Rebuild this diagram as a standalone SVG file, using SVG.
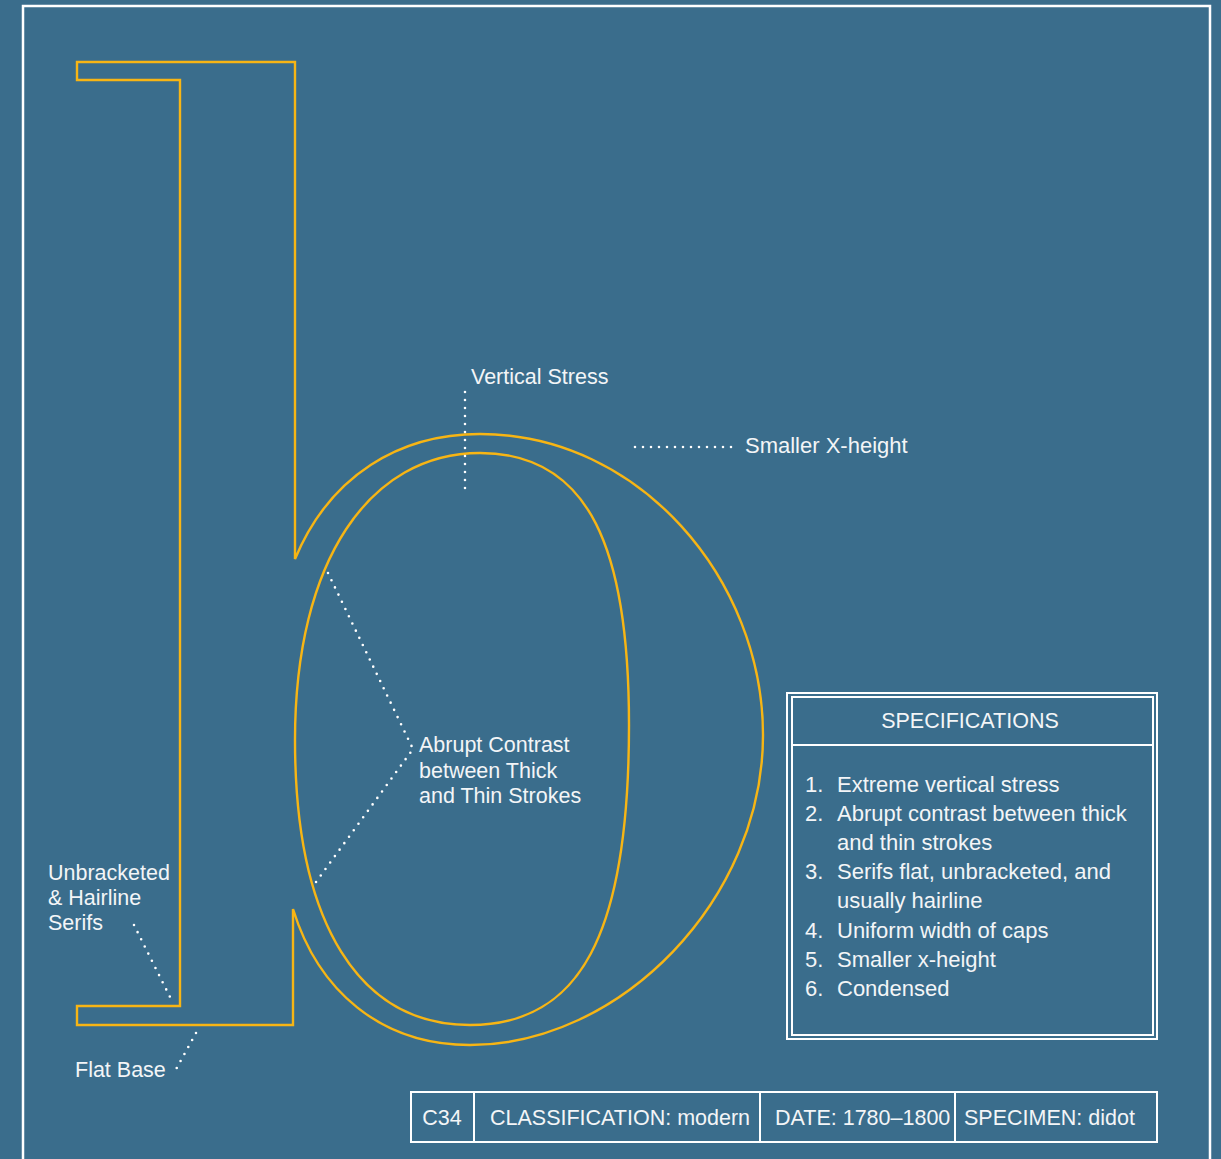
<svg xmlns="http://www.w3.org/2000/svg" width="1221" height="1159" viewBox="0 0 1221 1159">
  <style>
    .glyph { fill: none; stroke: #f7b514; stroke-width: 2.4; stroke-linejoin: miter; }
    .dots { fill: none; stroke: #ffffff; stroke-width: 2.6; stroke-linecap: round; stroke-dasharray: 0 8; }
    .lbl { font-family: "Liberation Sans", Arial, sans-serif; font-size: 21.5px; fill: #f3f5f7; }
    .spec { font-size: 22px; }
    .box { fill: none; stroke: #ffffff; stroke-width: 2; }
  </style>
  <rect x="0" y="0" width="1221" height="1159" fill="#3a6d8c"/>
  <path d="M23,1165 V6 H1210 V1165" fill="none" stroke="#ffffff" stroke-width="2.5"/>

  <g id="letter-b">
    <path class="glyph" d="M77,62 H295 V559 C330,475 400,434 480,434 C640,434 763,580 763,735 C763,900 620,1045 470,1045 C380,1045 318,990 293,909 V1025 H77 V1006 H180 V80 H77 Z"/>
    <path class="glyph" d="M480,453 C590,453 629,550 629,725 C629,935 580,1025 470,1025 C360,1025 295,925 295,740 C295,560 370,453 480,453 Z"/>
  </g>

  <g id="connectors">
    <line class="dots" x1="465" y1="392" x2="465" y2="492"/>
    <line class="dots" x1="635" y1="447" x2="735" y2="447"/>
    <polyline class="dots" points="328,573 413,749 316,882"/>
    <line class="dots" x1="134" y1="925" x2="170" y2="997"/>
    <line class="dots" x1="196" y1="1033" x2="174" y2="1073"/>
  </g>

  <g id="label-vertical-stress"><text class="lbl" x="471" y="384">Vertical Stress</text></g>
  <g id="label-x-height"><text class="lbl spec" x="745" y="453">Smaller X-height</text></g>
  <g id="label-contrast">
    <text class="lbl" x="419" y="752">Abrupt Contrast</text>
    <text class="lbl" x="419" y="778">between Thick</text>
    <text class="lbl" x="419" y="803">and Thin Strokes</text>
  </g>
  <g id="label-serifs">
    <text class="lbl" x="48" y="880">Unbracketed</text>
    <text class="lbl" x="48" y="905">&amp; Hairline</text>
    <text class="lbl" x="48" y="930">Serifs</text>
  </g>
  <g id="label-flat-base"><text class="lbl" x="75" y="1077">Flat Base</text></g>

  <g id="specifications">
    <rect class="box" x="787" y="693" width="370" height="346" stroke-width="1.6"/>
    <rect class="box" x="792" y="697" width="361" height="338" stroke-width="1.6"/>
    <line class="box" x1="792" y1="745" x2="1153" y2="745" stroke-width="2.4"/>
    <text class="lbl" x="970" y="728" text-anchor="middle">SPECIFICATIONS</text>
    <text class="lbl spec" x="805" y="792">1.</text><text class="lbl spec" x="837" y="792">Extreme vertical stress</text>
    <text class="lbl spec" x="805" y="821">2.</text><text class="lbl spec" x="837" y="821">Abrupt contrast between thick</text>
    <text class="lbl spec" x="837" y="850">and thin strokes</text>
    <text class="lbl spec" x="805" y="879">3.</text><text class="lbl spec" x="837" y="879">Serifs flat, unbracketed, and</text>
    <text class="lbl spec" x="837" y="908">usually hairline</text>
    <text class="lbl spec" x="805" y="938">4.</text><text class="lbl spec" x="837" y="938">Uniform width of caps</text>
    <text class="lbl spec" x="805" y="967">5.</text><text class="lbl spec" x="837" y="967">Smaller x-height</text>
    <text class="lbl spec" x="805" y="996">6.</text><text class="lbl spec" x="837" y="996">Condensed</text>
  </g>

  <g id="info-bar">
    <rect class="box" x="411" y="1092" width="746" height="50" stroke-width="2.4"/>
    <line class="box" x1="474" y1="1092" x2="474" y2="1142" stroke-width="2.4"/>
    <line class="box" x1="760" y1="1092" x2="760" y2="1142" stroke-width="2.4"/>
    <line class="box" x1="955" y1="1092" x2="955" y2="1142" stroke-width="2.4"/>
    <text class="lbl" x="442" y="1125" text-anchor="middle">C34</text>
    <text class="lbl" x="490" y="1125">CLASSIFICATION: modern</text>
    <text class="lbl" x="775" y="1125">DATE: 1780–1800</text>
    <text class="lbl" x="964" y="1125">SPECIMEN: didot</text>
  </g>
</svg>
